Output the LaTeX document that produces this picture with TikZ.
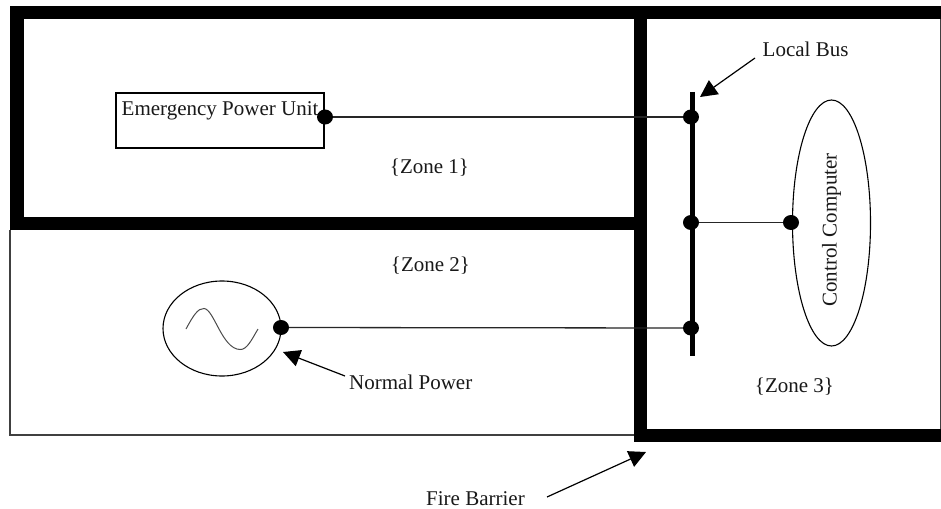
\documentclass[tikz,border=0pt]{standalone}
\usepackage{fontspec}
\setmainfont{Liberation Serif}
\usetikzlibrary{arrows.meta,shapes.geometric}
\tikzset{
  x=1pt,y=-1pt,
  wall/.style={fill=black,draw=none},
  thin line/.style={draw=black!75,line width=1.2pt},
  conn/.style={draw=black!85,line width=1.3pt},
  dot/.style={ellipse,fill=black,draw=none,minimum width=16pt,minimum height=15pt,inner sep=0pt},
  lbl/.style={font=\fontsize{21}{25}\selectfont,inner sep=0pt,text=black!90},
  shape line/.style={draw=black,line width=1.1pt},
  pointer/.style={draw=black,line width=1.2pt,-{Triangle[length=17pt,width=17pt]}},
}
\begin{document}
\begin{tikzpicture}
\useasboundingbox (0,0) rectangle (941,508);
\fill[white] (0,0) rectangle (941,508);
% thin outlines
\draw[thin line] (10,230) -- (10,435) -- (634,435);
\draw[thin line] (940.3,19) -- (940.3,429);
% barriers
\fill[wall] (10,6) rectangle (941,19);
\fill[wall] (10,6) rectangle (24,230);
\fill[wall] (10,217) rectangle (647,230);
\fill[wall] (634,6) rectangle (647,442);
\fill[wall] (634,429) rectangle (941,442);
% shapes
\node[draw=black,line width=1.1pt,minimum width=208pt,minimum height=55pt,inner sep=0pt] (epu) at (220,120.5) {};
\node[lbl,anchor=base west] (epulabel) at (121.5,115.5) {Emergency Power Unit};
\node[ellipse,shape line,minimum width=78pt,minimum height=246pt,inner sep=0pt] (cc) at (831.5,223) {};
\node[lbl,rotate=90,anchor=base] (cclabel) at (836.5,230) {Control Computer};
\node[ellipse,shape line,minimum width=118pt,minimum height=95pt,inner sep=0pt] (src) at (222,328.5) {};
\draw[draw=black!70,line width=1pt] (186,329) .. controls (193,316) and (198,308) .. (204,308.5)
  .. controls (214,309) and (222,349) .. (240,349.5) .. controls (247,350) and (252,339) .. (258,329);
% bus
\coordinate (bustop) at (692,92);
\coordinate (busbot) at (692,356);
\draw[line width=5pt,draw=black] (bustop) -- (busbot);
% dots
\node[dot] (d1) at (325,117) {};
\node[dot] (d2) at (691,117) {};
\node[dot] (d3) at (691,222.5) {};
\node[dot] (d4) at (791,222.5) {};
\node[dot] (d5) at (281,327.5) {};
\node[dot] (d6) at (691,328) {};
\draw[conn] (d1) -- (d2);
\draw[conn] (d3) -- (d4);
\draw[conn] (d5) -- (d6);
% labels
\node[lbl,anchor=base] (z1) at (429.5,173.5) {\{Zone 1\}};
\node[lbl,anchor=base] (z2) at (430.5,271) {\{Zone 2\}};
\node[lbl,anchor=base] (z3) at (794.5,392) {\{Zone 3\}};
\node[lbl,anchor=base west] (lb) at (762.5,57) {Local Bus};
\node[lbl,anchor=base west] (np) at (349,389.5) {Normal Power};
\node[lbl,anchor=base west] (fb) at (426,505) {Fire Barrier};
% pointers
\coordinate (lbt) at (755,58);
\coordinate (lbh) at (700,97);
\coordinate (npt) at (345,376);
\coordinate (nph) at (283,352);
\coordinate (fbt) at (547,497);
\coordinate (fbh) at (646,452);
\draw[pointer] (lbt) -- (lbh);
\draw[pointer] (npt) -- (nph);
\draw[pointer] (fbt) -- (fbh);
\end{tikzpicture}
\end{document}
